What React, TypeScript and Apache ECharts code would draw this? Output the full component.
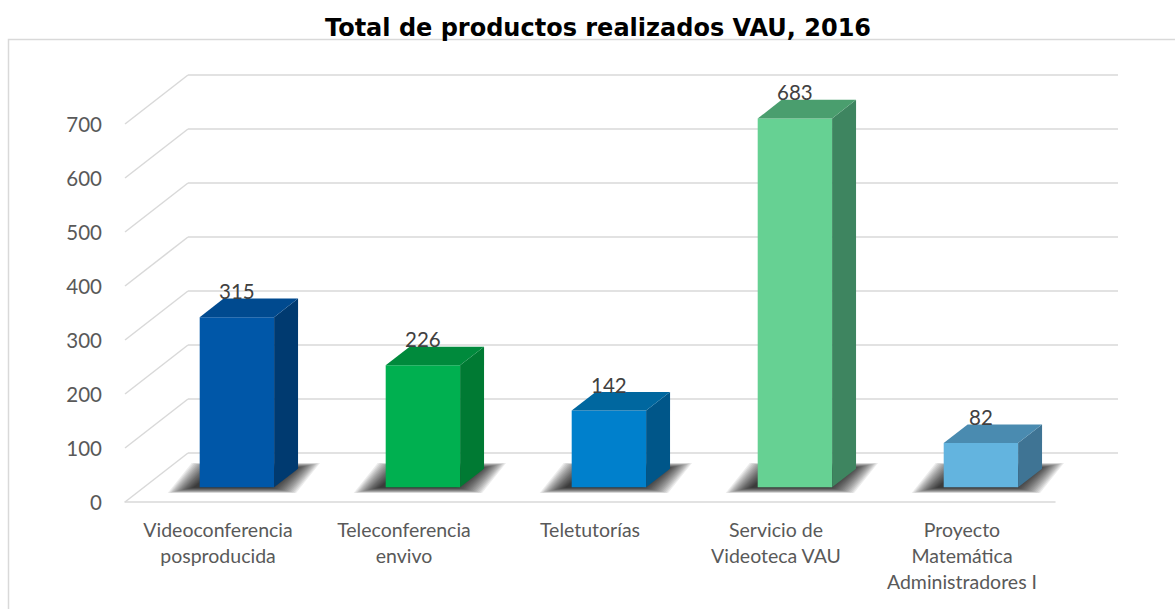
import React, { useEffect, useRef } from "react";
import * as echarts from "echarts";

const categories = [
  "Videoconferencia\nposproducida",
  "Teleconferencia\nenvivo",
  "Teletutorías",
  "Servicio de\nVideoteca VAU",
  "Proyecto\nMatemática\nAdministradores I",
];
const values = [315, 226, 142, 683, 82];
const yTicks = [0, 100, 200, 300, 400, 500, 600, 700];
const frontColors = ["#0057A8", "#00B050", "#0080CC", "#66D193", "#63B4DF"];
const topColors = ["#004A8F", "#008A3C", "#00679F", "#4A9E6E", "#4A8BB0"];
const sideColors = ["#003A70", "#007A33", "#005689", "#3E8560", "#3F7494"];

const TITLE = "Total de productos realizados VAU, 2016";

// layout (pixels)
const W = 1175;
const H = 609;
const FRONT = { left: 125, right: 120, top: 124, bottom: 107 };
const DEPTH_X = 63;
const DEPTH_Y = 49;
const BAR_FRONT = 0.3; // depth fraction where bar front face sits
const BAR_DEPTH = 0.38; // depth fraction of bar thickness
const GRID_COLOR = "#d9d9d9";
const FONT = "Lato, 'Open Sans', sans-serif";
const SHADOW_LAYERS = 18;

export default function App() {
  const ref = useRef<HTMLDivElement>(null);
  useEffect(() => {
    if (!ref.current) return;
    const chart = echarts.init(ref.current, undefined, { renderer: "svg" });
    const ox = DEPTH_X * BAR_FRONT;
    const oy = -DEPTH_Y * BAR_FRONT;
    const bx = DEPTH_X * BAR_DEPTH;
    const by = -DEPTH_Y * BAR_DEPTH;

    const barGeom = (api: any, i: number, v: number) => {
      const [cx, y0] = api.coord([i, 0]);
      const [, yv] = api.coord([i, v]);
      const w = api.size([1, 0])[0] * 0.4;
      const x1 = cx - w / 2 + ox;
      const x2 = cx + w / 2 + ox;
      const yb = y0 + oy;
      const yt = yv + oy;
      return { cx, x1, x2, yb, yt };
    };

    const option: any = {
      animation: false,
      backgroundColor: "#ffffff",
      graphic: [
        {
          type: "rect",
          z: -10,
          shape: { x: 8.5, y: 39.5, width: 1200, height: 620 },
          style: { fill: "none", stroke: GRID_COLOR, lineWidth: 1.5 },
          silent: true,
        },
        {
          type: "text",
          x: 598,
          y: 28,
          style: {
            text: TITLE,
            fill: "#000000",
            font: "bold 24px 'DejaVu Sans', Verdana, sans-serif",
            textAlign: "center",
            textVerticalAlign: "middle",
          },
        },
      ],
      grid: [
        { ...FRONT },
        {
          left: FRONT.left + DEPTH_X,
          right: FRONT.right - DEPTH_X,
          top: FRONT.top - DEPTH_Y,
          bottom: FRONT.bottom + DEPTH_Y,
        },
      ],
      xAxis: [
        {
          type: "category",
          gridIndex: 0,
          data: categories,
          axisLine: { show: true, lineStyle: { color: GRID_COLOR, width: 1.5 } },
          axisTick: { show: false },
          axisLabel: {
            interval: 0,
            margin: 14,
            color: "#595959",
            fontFamily: FONT,
            fontSize: 19.5,
            lineHeight: 26,
          },
        },
        {
          type: "category",
          gridIndex: 1,
          data: categories,
          show: false,
        },
      ],
      yAxis: [
        {
          type: "value",
          gridIndex: 0,
          min: 0,
          max: 700,
          interval: 100,
          axisLine: { show: false },
          axisTick: { show: false },
          splitLine: { show: false },
          axisLabel: {
            margin: 23,
            color: "#595959",
            fontFamily: FONT,
            fontSize: 20.5,
          },
        },
        {
          type: "value",
          gridIndex: 1,
          min: 0,
          max: 700,
          interval: 100,
          axisLine: { show: false },
          axisTick: { show: false },
          axisLabel: { show: false },
          splitLine: { show: true, lineStyle: { color: GRID_COLOR, width: 1.5 } },
        },
      ],
      series: [
        {
          type: "custom",
          name: "sideGrid",
          xAxisIndex: 0,
          yAxisIndex: 0,
          silent: true,
          z: 1,
          data: yTicks.map((t) => [0, t]),
          renderItem: (params: any, api: any) => {
            const y = api.coord([0, api.value(1)])[1];
            const x = params.coordSys.x;
            return {
              type: "line",
              shape: { x1: x, y1: y, x2: x + DEPTH_X, y2: y - DEPTH_Y },
              style: { stroke: GRID_COLOR, lineWidth: 1.5 },
            };
          },
        },
        {
          type: "custom",
          name: "shadows",
          xAxisIndex: 0,
          yAxisIndex: 0,
          silent: true,
          z: 2,
          data: values.map((v, i) => [i, v]),
          renderItem: (params: any, api: any) => {
            const i = api.value(0);
            const g = barGeom(api, i, api.value(1));
            const children: any[] = [];
            for (let k = SHADOW_LAYERS; k >= 1; k--) {
              const eh = k * 1.5;
              const ev = k * 0.32;
              const s = -5;
              children.push({
                type: "polygon",
                shape: {
                  points: [
                    [g.x1 - eh + s, g.yb + ev],
                    [g.x2 + eh + s, g.yb + ev],
                    [g.x2 + bx + eh + s, g.yb + by - ev],
                    [g.x1 + bx - eh + s, g.yb + by - ev],
                  ],
                },
                style: { fill: "rgba(0,0,0,0.075)" },
              });
            }
            return { type: "group", children };
          },
        },
        {
          type: "custom",
          name: "bars",
          xAxisIndex: 0,
          yAxisIndex: 0,
          z: 3,
          data: values.map((v, i) => [i, v]),
          renderItem: (params: any, api: any) => {
            const i = api.value(0);
            const v = api.value(1);
            const g = barGeom(api, i, v);
            return {
              type: "group",
              children: [
                {
                  type: "rect",
                  shape: { x: g.x1, y: g.yt, width: g.x2 - g.x1, height: g.yb - g.yt },
                  style: { fill: frontColors[i] },
                },
                {
                  type: "polygon",
                  shape: {
                    points: [
                      [g.x2, g.yb],
                      [g.x2 + bx, g.yb + by],
                      [g.x2 + bx, g.yt + by],
                      [g.x2, g.yt],
                    ],
                  },
                  style: { fill: sideColors[i] },
                },
                {
                  type: "polygon",
                  shape: {
                    points: [
                      [g.x1, g.yt],
                      [g.x2, g.yt],
                      [g.x2 + bx, g.yt + by],
                      [g.x1 + bx, g.yt + by],
                    ],
                  },
                  style: { fill: topColors[i] },
                },
                {
                  type: "text",
                  x: (g.x1 + g.x2) / 2,
                  y: g.yt + by + 3,
                  style: {
                    text: String(v),
                    fill: "#404040",
                    font: `20.5px ${FONT}`,
                    textAlign: "center",
                    textVerticalAlign: "bottom",
                  },
                },
              ],
            };
          },
        },
      ],
    };
    chart.setOption(option);
    return () => chart.dispose();
  }, []);
  return (
    <div
      ref={ref}
      style={{ position: "absolute", left: 0, top: 0, width: W, height: H }}
    />
  );
}
